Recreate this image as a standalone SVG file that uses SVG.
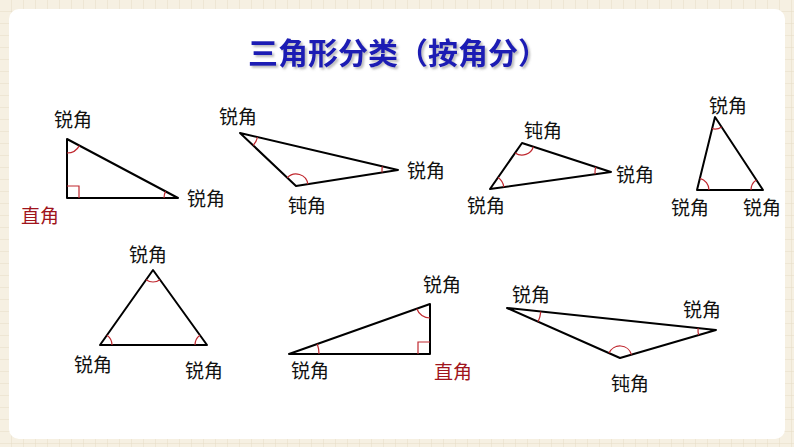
<svg xmlns="http://www.w3.org/2000/svg" width="794" height="447" viewBox="0 0 794 447">
<defs>
<pattern id="g" width="12" height="12" patternUnits="userSpaceOnUse"><rect width="12" height="12" fill="#f6f0e2"/><path d="M12 0V12M0 12H12" stroke="#e6dcc6" stroke-width="1"/></pattern>
<filter id="sh" x="-5%" y="-20%" width="110%" height="140%"><feDropShadow dx="2" dy="2" stdDeviation="1" flood-color="#777" flood-opacity="0.5"/></filter>
</defs>
<style>
.t{fill:none;stroke:#000;stroke-width:2;stroke-linejoin:round}
.a{fill:none;stroke:#c0282f;stroke-width:1.2}
.l{font-family:"Noto Sans CJK SC",sans-serif;font-size:19px;fill:#111;text-anchor:middle}
.r{fill:#a0141c}
.h{font-family:"Noto Sans CJK SC",sans-serif;font-size:30px;font-weight:bold;fill:#1c1cb4;text-anchor:middle}
</style>
<rect width="794" height="447" fill="url(#g)"/>
<rect x="9" y="9" width="776" height="430" rx="10" fill="#fff"/>
<text class="h" x="398" y="64" filter="url(#sh)">三角形分类（按角分）</text>
<g id="t1"><path class="t" d="M67,139V198H178Z"/><path class="a" d="M67,153A14,14 0 0 0 79.4,145.6M164,198A14,14 0 0 1 165.6,191.4M67,186H79V198"/>
<text class="l" x="73" y="127">锐角</text><text class="l r" x="40" y="223">直角</text><text class="l" x="206" y="206">锐角</text></g>
<g id="t2"><path class="t" d="M240,133L296,186L398,170Z"/><path class="a" d="M253.1,145.4A18,18 0 0 0 257.5,137.1M287.3,177.8A12,12 0 0 1 307.9,184.1M382.4,166.4A16,16 0 0 0 382.2,172.5"/>
<text class="l" x="238" y="124">锐角</text><text class="l" x="426" y="178">锐角</text><text class="l" x="307" y="213">钝角</text></g>
<g id="t3"><path class="t" d="M522,143L490,189L611,172Z"/><path class="a" d="M515.1,152.9A12,12 0 0 0 533.4,146.7M498,177.5A14,14 0 0 1 503.9,187.1M595.8,167A16,16 0 0 0 595.2,174.2"/>
<text class="l" x="543" y="138">钝角</text><text class="l" x="635" y="182">锐角</text><text class="l" x="486" y="213">锐角</text></g>
<g id="t4"><path class="t" d="M715,117L697,190H763Z"/><path class="a" d="M712.1,128.7A12,12 0 0 0 721.6,127M699.9,178.3A12,12 0 0 1 709,190M751,190A12,12 0 0 1 756.4,180"/>
<text class="l" x="728" y="113">锐角</text><text class="l" x="690" y="215">锐角</text><text class="l" x="762" y="215">锐角</text></g>
<g id="t5"><path class="t" d="M153,270L100,345H207Z"/><path class="a" d="M146.1,279.8A12,12 0 0 0 160,279.7M106.9,335.2A12,12 0 0 1 112,345M195,345A12,12 0 0 1 200,335.3"/>
<text class="l" x="148" y="262">锐角</text><text class="l" x="93" y="372">锐角</text><text class="l" x="204" y="378">锐角</text></g>
<g id="t6"><path class="t" d="M289,354L430,304V354Z"/><path class="a" d="M317.3,344A30,30 0 0 1 319,354M430,318A14,14 0 0 1 416.8,308.7M418,354V342H430"/>
<text class="l" x="442" y="292">锐角</text><text class="l" x="310" y="378">锐角</text><text class="l r" x="453" y="379">直角</text></g>
<g id="t7"><path class="t" d="M507,308L716,330L620,358Z"/><path class="a" d="M540.8,311.6A34,34 0 0 1 538.1,321.8M698.1,328.1A18,18 0 0 0 698.7,335M609,353.1A12,12 0 0 1 631.5,354.6"/>
<text class="l" x="531" y="302">锐角</text><text class="l" x="702" y="317">锐角</text><text class="l" x="630" y="391">钝角</text></g>
</svg>
